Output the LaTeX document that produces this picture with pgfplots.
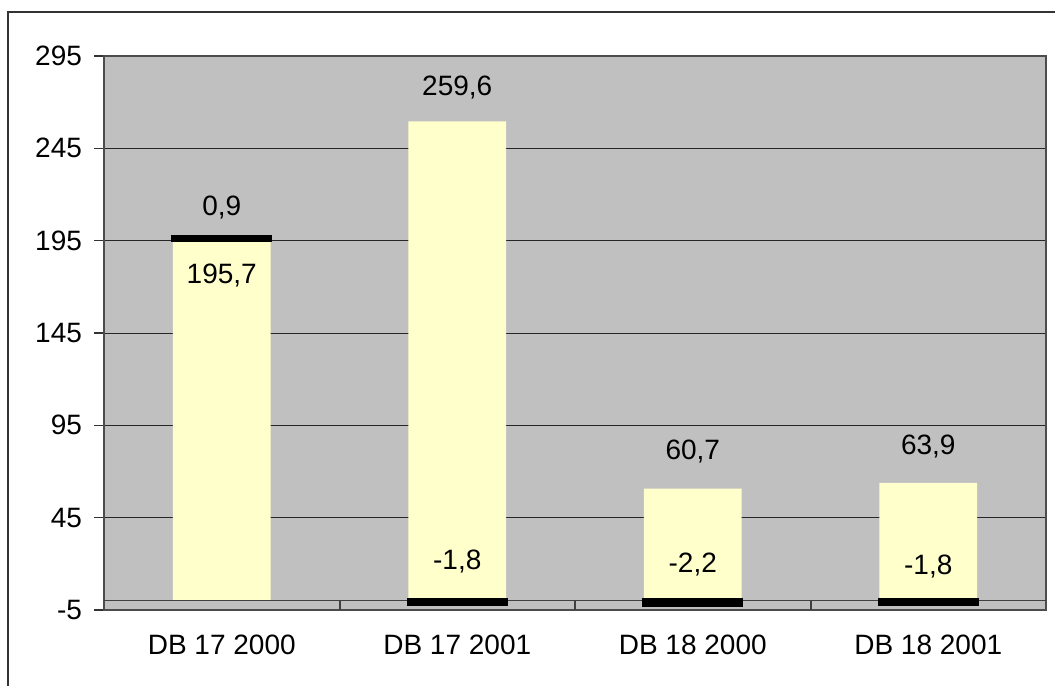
\documentclass[border=0pt]{standalone}
\usepackage{pgfplots}
\pgfplotsset{compat=1.18}
\usepackage{fontspec}
\setmainfont{Liberation Sans}
\definecolor{plotgray}{HTML}{C0C0C0}
\definecolor{baryellow}{HTML}{FFFFCC}
\newcommand{\lblfont}{\fontsize{21}{25}\selectfont}

\pgfplotsset{
  basestyle/.style={
    scale only axis, width=706.5pt, height=415.5pt,
    at={(78pt,-457.5pt)}, anchor=south west,
    xmin=-0.5, xmax=3.5, ymin=-5, ymax=295,
    clip=false,
  }
}

\begin{document}
\begin{tikzpicture}
\useasboundingbox (0pt,0pt) rectangle (791.25pt,-513.75pt);
\draw[line width=1.5pt, black!80] (6pt,-520pt) -- (6pt,-9pt) -- (800pt,-9pt);

% main axis: background, grid, yellow bars
\begin{axis}[basestyle,
  axis background/.style={fill=plotgray},
  axis line style={black!70, line width=1pt},
  ytick={-5,45,...,295},
  ytick pos=left,
  ymajorgrids,
  grid style={black!85, line width=0.75pt},
  tick align=outside,
  major tick length=7.5pt,
  tick style={black!80, line width=1pt},
  xtick={0,1,2,3},
  xticklabels={DB 17 2000, DB 17 2001, DB 18 2000, DB 18 2001},
  xtick style={draw=none},
  /pgf/number format/assume math mode=true,
  every tick label/.append style={font=\lblfont},
  yticklabel style={xshift=-5.5pt},
  xticklabel style={yshift=-8pt},
]
\addplot[ybar, bar width=0.416, fill=baryellow, draw=none, bar shift=0pt]
  coordinates {(0,195.7) (1,259.6) (2,60.7) (3,63.9)};
\draw[black!75, line width=1pt] (axis cs:-0.5,0) -- (axis cs:3.5,0);
\draw[black!75, line width=1.5pt] (axis cs:0.5,0) -- (axis cs:0.5,-5);
\draw[black!75, line width=1.5pt] (axis cs:1.5,0) -- (axis cs:1.5,-5);
\draw[black!75, line width=1.5pt] (axis cs:2.5,0) -- (axis cs:2.5,-5);
\end{axis}

% overlay axis: black bars and value labels
\begin{axis}[basestyle, hide axis, ybar stacked, bar width=0.41]
\addplot[draw=none, fill=none] coordinates {(0,195.7) (1,0) (2,0) (3,0)};
\addplot[fill=black, draw=black, line width=3.6pt]
  coordinates {(0,0.9) (1,-1.8) (2,-2.2) (3,-1.8)};
\node[font=\lblfont] at (axis cs:0,213) {0,9};
\node[font=\lblfont] at (axis cs:0,176.4) {195,7};
\node[font=\lblfont] at (axis cs:1,278) {259,6};
\node[font=\lblfont] at (axis cs:1,21) {-1,8};
\node[font=\lblfont] at (axis cs:2,80.6) {60,7};
\node[font=\lblfont] at (axis cs:2,19.4) {-2,2};
\node[font=\lblfont] at (axis cs:3,83.3) {63,9};
\node[font=\lblfont] at (axis cs:3,18.8) {-1,8};
\end{axis}
\end{tikzpicture}
\end{document}
